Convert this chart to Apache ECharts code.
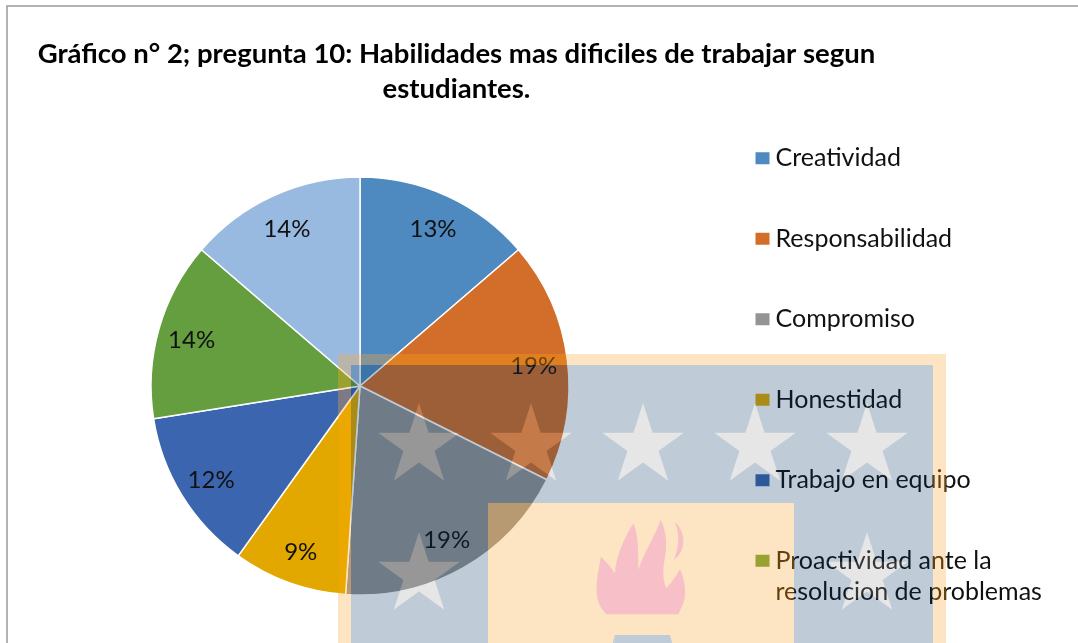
<!DOCTYPE html>
<html>
<head>
<meta charset="utf-8">
<style>html,body{margin:0;padding:0;background:#fff}#c{width:1078px;height:643px}</style>
<script src="https://cdn.jsdelivr.net/npm/echarts@6/dist/echarts.min.js"></script>
</head>
<body>
<div id="c"></div>
<script>
const titleText = 'Gráfico n° 2; pregunta 10: Habilidades mas dificiles de trabajar segun\nestudiantes.';
const categories = ['Creatividad','Responsabilidad','Compromiso','Honestidad','Trabajo en equipo','Proactividad ante la resolucion de problemas','Otra'];
const legendCategories = categories.slice(0,6);
const values = [13.7,18.7,18.7,8.8,12.6,13.8,13.7];
const percentLabels = ['13%','19%','19%','9%','12%','14%','14%'];
const colors = ['#4E89BF','#D26D2A','#949494','#E3A800','#3C65AF','#659E3F','#98B9E0'];
const FONT = 'Lato';

/* Watermark drawn over the chart: out = base * m + k, per channel. */
const WM = {
  band: {m:[.65,.69,.76], k:[87,52,0]},
  blue: {m:[.75,.75,.75], k:[0,13,24]},
  star: {m:[.74,.74,.74], k:[41,41,41]},
  flame:{m:[.75,.75,.75], k:[56,1,9]}
};
function paintWatermark(pick, bg){
  const cv = document.createElement('canvas'); cv.width = 1078; cv.height = 643;
  const g = cv.getContext('2d');
  g.fillStyle = bg; g.fillRect(0,0,1078,643);
  g.filter = 'blur(0.6px)';
  const col = r => 'rgb(' + pick(r).join(',') + ')';
  g.fillStyle = col(WM.band); g.fillRect(338,354,608,300);
  g.fillStyle = col(WM.blue); g.fillRect(351,365,582,300);
  g.fillStyle = col(WM.band); g.fillRect(488,503,306,160);
  function star(cx,cy,R){
    g.beginPath();
    for(let i=0;i<10;i++){
      const r = i%2 ? R*0.382 : R, a = -Math.PI/2 + i*Math.PI/5;
      g.lineTo(cx+r*Math.cos(a), cy+r*Math.sin(a));
    }
    g.closePath(); g.fill();
  }
  g.fillStyle = col(WM.star);
  [[419,446],[531,446],[643,446],[755,446],[867,446],[419,575],[867,575]].forEach(p=>star(p[0],p[1],43));
  g.fillStyle = col(WM.flame);
  g.setTransform(1/3,0,0,1/3,580,510);
  g.fill(new Path2D('M80,313 C55,290 48,260 50,225 C52,190 60,165 62,140 C75,150 95,175 105,190 C108,140 130,90 160,40 C175,70 175,130 175,180 C190,130 225,80 242,30 C258,60 262,100 255,140 C250,170 245,195 258,235 C275,220 290,195 300,178 C315,210 320,250 310,280 L295,313 Z'));
  g.fill(new Path2D('M285,35 C305,55 315,85 308,110 C303,130 292,140 282,150 C295,110 302,80 285,35 Z'));
  g.setTransform(1,0,0,1,0,0);
  g.fillStyle = col(WM.blue);
  g.beginPath(); g.moveTo(615,635); g.lineTo(670,635); g.lineTo(674,650); g.lineTo(611,650); g.closePath(); g.fill();
  return cv;
}
const wmMultiply = paintWatermark(r=>r.m.map(v=>Math.round(v*255)), '#fff');
const wmAdd = paintWatermark(r=>r.k, '#000');

const chart = echarts.init(document.getElementById('c'),null,{renderer:'canvas'});
chart.setOption({
  animation:false,
  backgroundColor:'#fff',
  color:colors,
  title:{
    text:titleText,left:451.5,top:32,textAlign:'center',
    textStyle:{fontFamily:FONT,fontWeight:'bold',fontSize:27.5,color:'#000',lineHeight:35}
  },
  legend:{
    data:legendCategories,orient:'vertical',left:753.5,top:143,padding:0,
    icon:'rect',itemWidth:16,itemHeight:14,itemGap:50,height:600,
    formatter:n=>n.split(' resolucion')[0],
    textStyle:{fontFamily:FONT,fontSize:25,color:'#111',lineHeight:30.5},
    selectedMode:false
  },
  series:[
    {type:'pie',center:[360,386],radius:[0,209],startAngle:90,clockwise:true,silent:true,
     data:categories.map((n,i)=>({name:n,value:values[i],itemStyle:{color:colors[i]}})),
     label:{show:false},labelLine:{show:false},
     itemStyle:{borderColor:'#fff',borderWidth:1.5}},
    {type:'pie',center:[360,388],radius:[135,209],startAngle:90,clockwise:true,silent:true,
     data:categories.map((n,i)=>({name:n,value:values[i],itemStyle:{color:'rgba(0,0,0,0)'}})),
     label:{show:true,position:'inside',formatter:p=>percentLabels[p.dataIndex],
       fontFamily:FONT,fontSize:24,color:'#111'},labelLine:{show:false}}
  ],
  graphic:[
    {type:'text',z:50,silent:true,style:{text:'resolucion de problemas',x:775.5,y:592,verticalAlign:'middle',
      font:'25px '+FONT,fill:'#111'}},
    {type:'rect',z:60,silent:true,shape:{x:7,y:6,width:1300,height:900},
      style:{fill:'none',stroke:'#9a9a9a',lineWidth:1.5}},
    {type:'image',z:100,silent:true,style:{image:wmMultiply,x:0,y:0,width:1078,height:643,blend:'multiply'}},
    {type:'image',z:101,silent:true,style:{image:wmAdd,x:0,y:0,width:1078,height:643,blend:'lighter'}}
  ]
});
</script>
</body>
</html>
